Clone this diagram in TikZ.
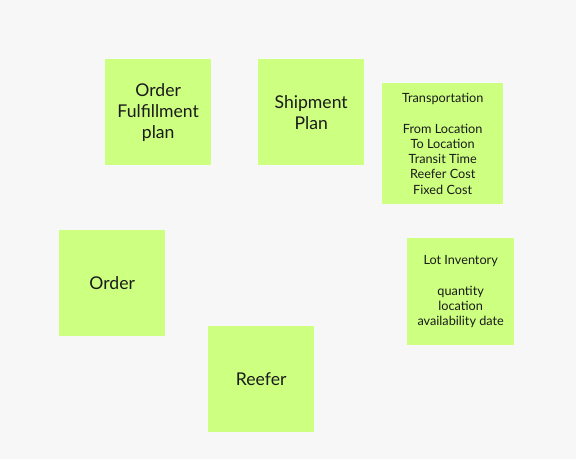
\documentclass[tikz,border=0pt]{standalone}
\usepackage{fontspec}
\setmainfont{Lato}
\definecolor{bg}{HTML}{F7F7F7}
\definecolor{sticky}{HTML}{CDFF80}
\definecolor{ink}{HTML}{1A1A1A}
\begin{document}
\begin{tikzpicture}[x=1pt,y=-1pt,
  note/.style={fill=sticky, draw=none, inner sep=0pt, anchor=north west, align=center, text=ink},
  big/.style={note, font=\fontsize{17.6}{21}\selectfont},
  small/.style={note, font=\fontsize{12.7}{15.3}\selectfont}]
\fill[bg] (0,0) rectangle (576,459);
\useasboundingbox (0,0) rectangle (576,459);
\node[big, minimum width=106pt, minimum height=106pt] (ofp) at (105,59) {\raisebox{-3pt}{\parbox{100pt}{\centering Order\\Fulfillment\\plan}}};
\node[big, minimum width=106pt, minimum height=106pt] (sp) at (258,59) {Shipment\\Plan};
\node[small, minimum width=121pt, minimum height=121pt] (tr) at (382,83) {Transportation\\[15.3pt]From Location\\To Location\\Transit Time\\Reefer Cost\\Fixed Cost};
\node[big, minimum width=106pt, minimum height=106pt] (ord) at (59,230) {Order};
\node[big, minimum width=106pt, minimum height=106pt] (ref) at (208,326) {Reefer};
\node[small, minimum width=107pt, minimum height=107pt] (lot) at (407,238) {Lot Inventory\\[15.3pt]quantity\\location\\availability date};
\end{tikzpicture}
\end{document}
